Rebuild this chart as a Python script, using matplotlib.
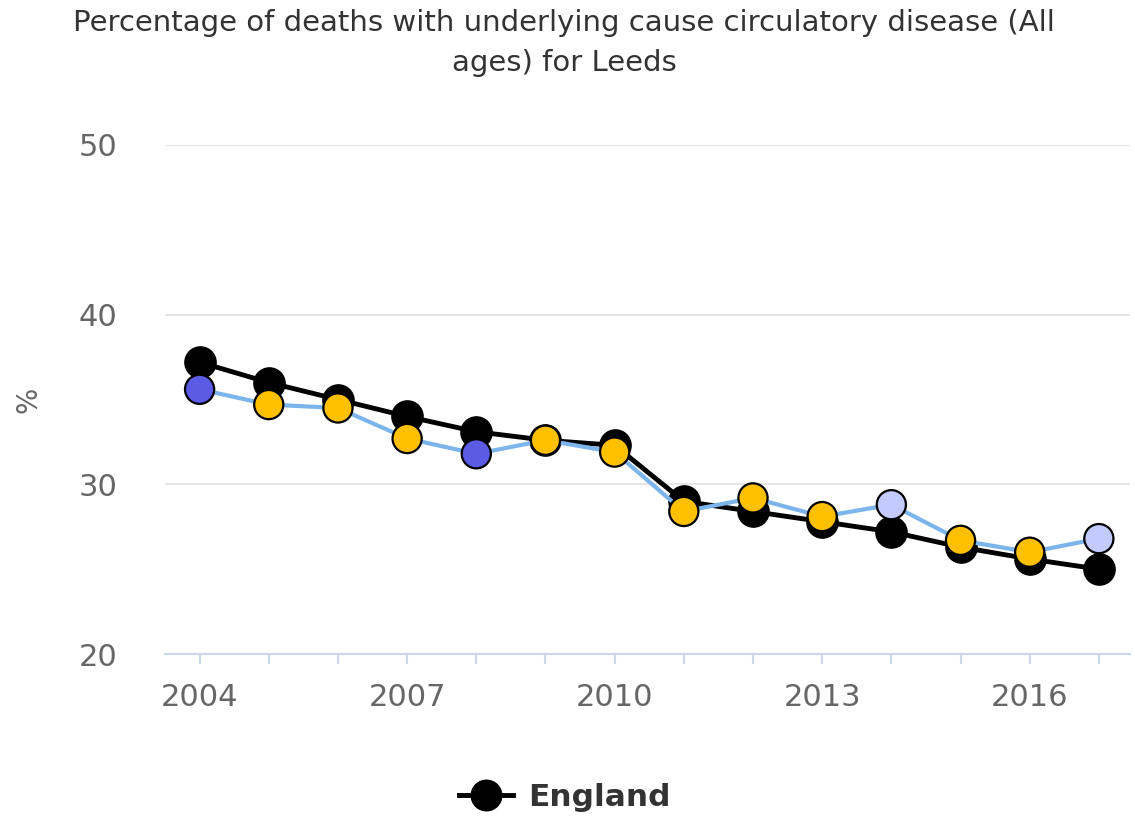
import matplotlib
matplotlib.use("Agg")
import matplotlib.pyplot as plt
from matplotlib.lines import Line2D

years = [2004, 2005, 2006, 2007, 2008, 2009, 2010, 2011, 2012, 2013, 2014, 2015, 2016, 2017]
england = [37.2, 36.0, 35.0, 34.0, 33.1, 32.6, 32.3, 29.0, 28.4, 27.8, 27.2, 26.3, 25.6, 25.0]
leeds = [35.6, 34.7, 34.5, 32.7, 31.8, 32.6, 31.9, 28.4, 29.2, 28.1, 28.8, 26.7, 26.0, 26.8]
leeds_colors = ["#5b5be6", "#ffc000", "#ffc000", "#ffc000", "#5b5be6", "#ffc000", "#ffc000",
                "#ffc000", "#ffc000", "#ffc000", "#c2caff", "#ffc000", "#ffc000", "#c2caff"]
yticks = [20, 30, 40, 50]
xtick_labels = [2004, 2007, 2010, 2013, 2016]

plt.rcParams['font.family'] = ['DejaVu Sans']

fig = plt.figure(figsize=(11.35, 8.18), dpi=100)
ax = fig.add_axes([165/1135, 1-654/818, (1130-165)/1135, (654-145)/818])

ax.plot(years, england, color="black", lw=3.5, zorder=3)
ax.scatter(years, england, s=22.5**2, color="black", edgecolor="black", lw=1, zorder=4)
ax.plot(years, leeds, color="#7cb5ec", lw=3, zorder=5)
ax.scatter(years, leeds, s=21**2, c=leeds_colors, edgecolor="black", lw=1.6, zorder=6)

ax.set_xlim(2003.5, 2017.45)
ax.set_ylim(20, 50)
ax.set_yticks(yticks)
ax.set_xticks(years)
ax.set_xticklabels([str(y) if y in xtick_labels else "" for y in years])
ax.grid(axis="y", color="#e6e6e6", lw=1.5, zorder=0)
for s in ["top", "right", "left"]:
    ax.spines[s].set_visible(False)
ax.spines["bottom"].set_color("#ccd6eb")
ax.spines["bottom"].set_linewidth(1.5)
ax.tick_params(axis="x", colors="#ccd6eb", length=7, width=1.5, labelcolor="#666666", labelsize=22, pad=14)
ax.tick_params(axis="y", length=0, labelcolor="#666666", labelsize=22, pad=34)
ax.set_ylabel("%", color="#666666", fontsize=20, labelpad=26)

fig.text(564/1135, 1-9/818, "Percentage of deaths with underlying cause circulatory disease (All\nages) for Leeds",
         ha="center", va="top", fontsize=21, color="#333333", linespacing=1.55)

handle = Line2D([0], [0], color="black", lw=3.5, marker="o", markersize=22, markerfacecolor="black")
fig.legend([handle], ["England"], loc="center", bbox_to_anchor=(565/1135, 1-797/818), frameon=False,
           prop={"weight": "bold", "size": 22.5}, handlelength=1.7, handletextpad=0.5, labelcolor="#333333")

fig.savefig("out.png", dpi=100)
